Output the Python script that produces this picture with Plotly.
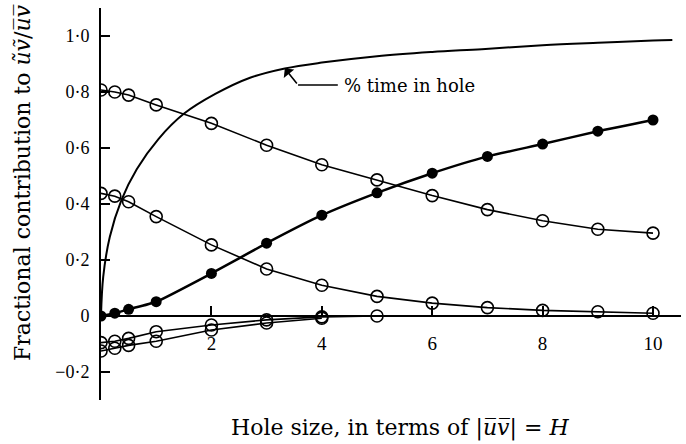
import plotly.graph_objects as go

# Hole size H (multiples of |uv|)
hole = [0, 0.25, 0.5, 1, 2, 3, 4, 5, 6, 7, 8, 9, 10]

# Fractional contributions to uv for each quadrant event class
upper_open = [0.807, 0.80, 0.789, 0.754, 0.688, 0.61, 0.54, 0.486, 0.43, 0.38, 0.34, 0.31, 0.296]
filled = [0.0, 0.01, 0.024, 0.051, 0.152, 0.26, 0.36, 0.44, 0.51, 0.57, 0.614, 0.66, 0.70]
middle_open = [0.438, 0.428, 0.408, 0.355, 0.254, 0.168, 0.11, 0.07, 0.046, 0.03, 0.02, 0.015, 0.01]

hole_neg_a = [0, 0.25, 0.5, 1, 2, 3, 4, 5]
neg_a = [-0.095, -0.09, -0.08, -0.056, -0.032, -0.014, -0.003, 0.0]
hole_neg_b = [0, 0.25, 0.5, 1, 2, 3, 4]
neg_b = [-0.125, -0.115, -0.105, -0.09, -0.05, -0.025, -0.008]

# Percentage of time spent inside the hole
hole_time = [0, 0.04, 0.16, 0.37, 0.65, 1.04, 1.5, 2.07, 2.7, 3.33, 4, 5, 6, 6.9, 8, 9, 10, 10.35]
time_frac = [0, 0.14, 0.283, 0.414, 0.525, 0.632, 0.722, 0.793, 0.851, 0.884, 0.905, 0.928, 0.943, 0.953, 0.967, 0.976, 0.984, 0.986]

y_ticks = [1.0, 0.8, 0.6, 0.4, 0.2, 0, -0.2]
y_tick_text = ["1·0", "0·8", "0·6", "0·4", "0·2", "0", "−0·2"]
x_ticks = [2, 4, 6, 8, 10]
x_tick_text = ["2", "4", "6", "8", "10"]

X_RANGE = [0, 10.507]
Y_RANGE = [-0.3, 1.1]

FONT = "Liberation Serif"
TITLE_FONT = "DejaVu Serif"
ink = "black"

fig = go.Figure()

fig.add_trace(go.Scatter(x=hole_time, y=time_frac, mode="lines",
                         line=dict(color=ink, width=2, shape="spline", smoothing=1.0)))

open_marker = dict(symbol="circle-open", size=12, color=ink, line=dict(width=1.6, color=ink))
filled_marker = dict(symbol="circle", size=11, color=ink)

fig.add_trace(go.Scatter(x=hole, y=upper_open, mode="lines+markers", line=dict(color=ink, width=1.6), marker=open_marker))
fig.add_trace(go.Scatter(x=hole, y=middle_open, mode="lines+markers", line=dict(color=ink, width=1.6), marker=open_marker))
fig.add_trace(go.Scatter(x=hole, y=filled, mode="lines+markers",
                         line=dict(color=ink, width=2.5, shape="spline", smoothing=0.5), marker=filled_marker))
fig.add_trace(go.Scatter(x=hole_neg_a, y=neg_a, mode="lines+markers", line=dict(color=ink, width=1.6), marker=open_marker))
fig.add_trace(go.Scatter(x=hole_neg_b, y=neg_b, mode="lines+markers", line=dict(color=ink, width=1.6), marker=open_marker))

# Labelled arrow pointing at the time-in-hole curve
fig.add_annotation(x=3.33, y=0.884, ax=3.57, ay=0.825, axref="x", ayref="y", text="",
                   showarrow=True, arrowhead=1, arrowsize=1.4, arrowwidth=1.6, arrowcolor=ink)
fig.add_shape(type="line", x0=3.57, y0=0.825, x1=4.29, y1=0.825, line=dict(color=ink, width=1.6))
fig.add_annotation(x=4.36, y=0.825, text="% time in hole", showarrow=False, xanchor="left",
                   yanchor="middle", font=dict(family=TITLE_FONT, size=18, color=ink))

# Axis titles
fig.add_annotation(xref="x", yref="paper", x=5.42, y=-0.071, text="Hole size, in terms of |<i>u̅v̅</i>| = <i>H</i>",
                   showarrow=False, xanchor="center", yanchor="middle", font=dict(family=TITLE_FONT, size=22, color=ink))
fig.add_annotation(xref="paper", yref="y", x=0, xshift=-79, y=0.475, textangle=-90,
                   text="Fractional contribution to <i>ũṽ</i>/<i>u̅v̅</i>", showarrow=False,
                   xanchor="center", yanchor="middle", font=dict(family=TITLE_FONT, size=22, color=ink))

fig.update_layout(
    width=686, height=444,
    margin=dict(l=101, r=5, t=8, b=44),
    paper_bgcolor="white", plot_bgcolor="white",
    showlegend=False,
    font=dict(family=FONT, size=18, color=ink),
    xaxis=dict(range=X_RANGE, anchor="free", position=(0 - Y_RANGE[0]) / (Y_RANGE[1] - Y_RANGE[0]),
               showline=True, linecolor=ink, linewidth=2, showgrid=False, zeroline=False,
               ticks="inside", ticklen=9, tickwidth=1.5, tickcolor=ink,
               tickvals=x_ticks, ticktext=x_tick_text, ticklabelstandoff=10,
               tickfont=dict(family=FONT, size=19, color=ink)),
    yaxis=dict(range=Y_RANGE, showline=True, linecolor=ink, linewidth=2, showgrid=False, zeroline=False,
               ticks="inside", ticklen=9, tickwidth=1.5, tickcolor=ink,
               tickvals=y_ticks, ticktext=y_tick_text, ticklabelstandoff=6,
               tickfont=dict(family=FONT, size=18, color=ink)),
)

fig.write_html("out.html")
